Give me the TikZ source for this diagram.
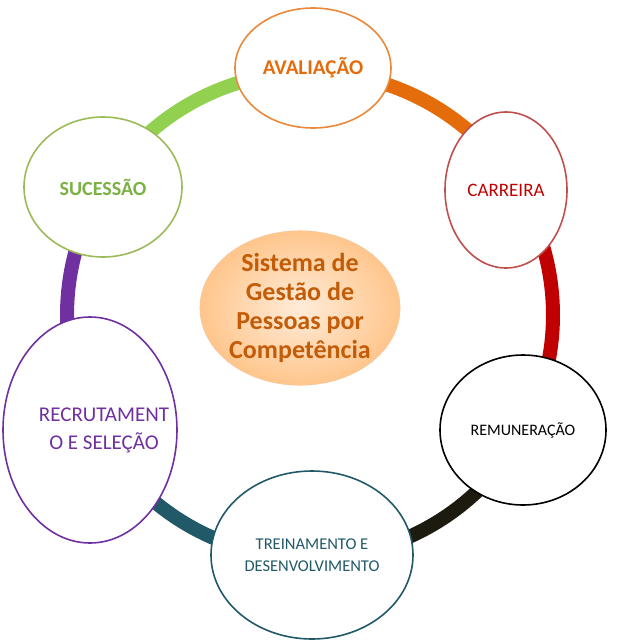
\documentclass[tikz,border=0pt]{standalone}
\usepackage{fontspec}
\setmainfont{Carlito}
\usetikzlibrary{shapes.geometric}
\definecolor{cgreen}{HTML}{92D050}
\definecolor{cgreenb}{HTML}{9BBB59}
\definecolor{corange}{HTML}{E46C0A}
\definecolor{cred}{HTML}{C00000}
\definecolor{credb}{HTML}{C0504D}
\definecolor{cdark}{HTML}{1D1B10}
\definecolor{cteal}{HTML}{215968}
\definecolor{cpurple}{HTML}{7030A0}
\tikzset{
  bub/.style={ellipse, fill=white, line width=1.6pt, align=center, inner sep=0pt},
  link/.style={line width=14pt}
}
\newcommand{\ringarc}[3]{\draw[link,#3] (O) ++(#1:243) arc[start angle=#1, end angle=#2, radius=243];}
\begin{document}
\begin{tikzpicture}[x=1pt,y=-1pt]
\useasboundingbox (0,0) rectangle (618,640);
\coordinate (O) at (310,315);
\ringarc{211.7}{270.7}{cgreen}
\ringarc{270.7}{327.5}{corange}
\ringarc{-32.5}{28.4}{cred}
\ringarc{28.4}{89.5}{cdark}
\ringarc{89.5}{152.4}{cteal}
\ringarc{152.4}{211.7}{cpurple}
\node[bub,draw=corange!80,minimum width=156pt,minimum height=120pt,text=corange,font=\bfseries\fontsize{21}{25}\selectfont] (A) at (313,68) {AVALIAÇÃO};
\node[bub,draw=credb,minimum width=122pt,minimum height=156pt,text=cred,font=\fontsize{19}{22}\selectfont] (C) at (506,190) {CARREIRA};
\node[bub,draw=black,minimum width=166pt,minimum height=150pt] (R) at (523,430) {};
\node[font=\fontsize{16}{20}\selectfont,inner sep=0pt] (Rt) at (523,430) {REMUNERAÇÃO};
\node[bub,draw=cteal,minimum width=202pt,minimum height=168pt,text=cteal,font=\fontsize{16.5}{22}\selectfont] (T) at (312,555) {TREINAMENTO E\\DESENVOLVIMENTO};
\node[bub,draw=cpurple,minimum width=174pt,minimum height=226pt] (E) at (90,430) {};
\node[text=cpurple,font=\fontsize{21}{28}\selectfont,align=center,inner sep=0pt] (Et) at (104,430) {RECRUTAMENT\\O E SELEÇÃO};
\node[bub,draw=cgreenb,minimum width=158pt,minimum height=140pt,text=cgreen!85!black,font=\bfseries\fontsize{20}{24}\selectfont] (S) at (103,187) {SUCESSÃO};
\node[ellipse,minimum width=198pt,minimum height=134pt,inner sep=0pt,draw=corange!40,inner color=orange!15,outer color=orange!45,align=center,text=corange!85!black,font=\bfseries\fontsize{26}{29}\selectfont] (M) at (300,308) {Sistema de\\Gestão de\\Pessoas por\\Competência};
\end{tikzpicture}
\end{document}
